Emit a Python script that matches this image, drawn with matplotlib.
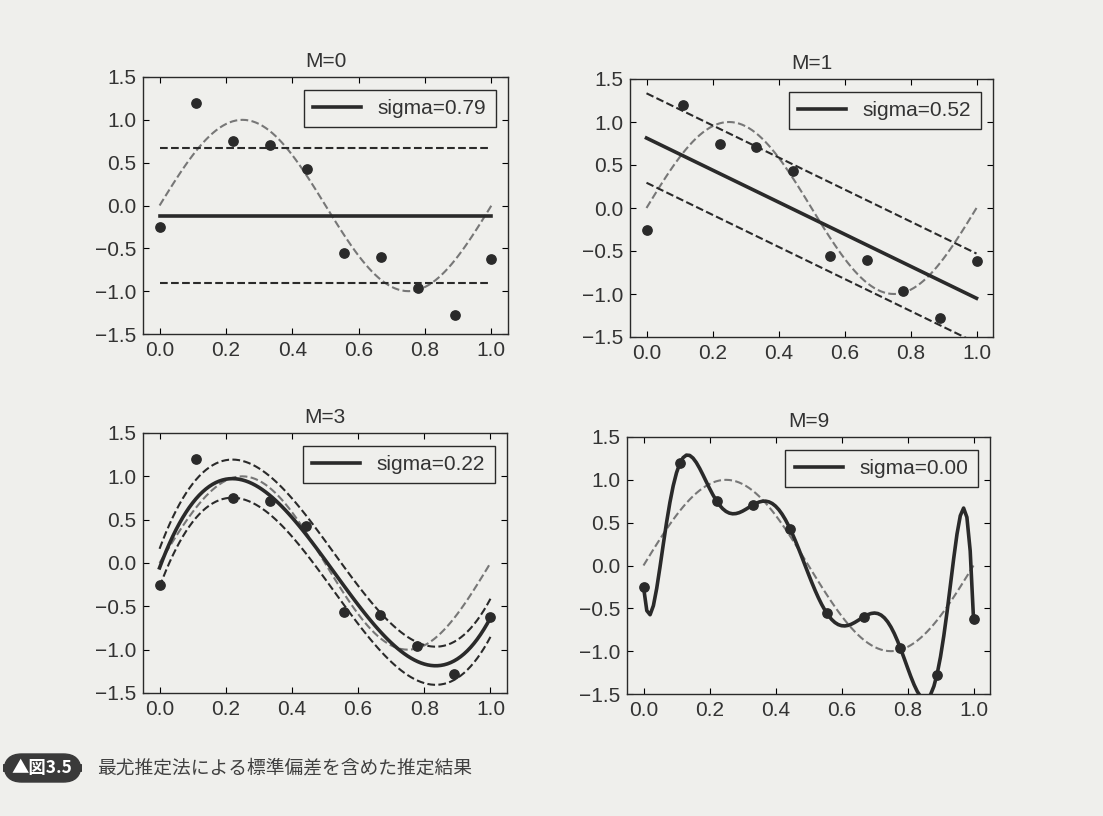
import numpy as np
import matplotlib
matplotlib.use("Agg")
import matplotlib.pyplot as plt
from matplotlib.patches import FancyBboxPatch

train_x = [0.0, 0.111, 0.222, 0.333, 0.444, 0.556, 0.667, 0.778, 0.889, 1.0]
train_y = [-0.25, 1.20, 0.75, 0.71, 0.43, -0.56, -0.60, -0.96, -1.28, -0.62]

orders = [0, 1, 3, 9]
sigmas = [0.79, 0.52, 0.22, 0.00]
titles = ["M=0", "M=1", "M=3", "M=9"]
caption = "最尤推定法による標準偏差を含めた推定結果"
badge = "▲図3.5"

xticks = [0.0, 0.2, 0.4, 0.6, 0.8, 1.0]
yticks = [-1.5, -1.0, -0.5, 0.0, 0.5, 1.0, 1.5]

paper = "#efefec"
ink = "#2a2a2a"

plt.rcParams["font.family"] = ["Liberation Sans", "DejaVu Sans"]

fig = plt.figure(figsize=(11.03, 8.16), dpi=100, facecolor=paper)
W, H = 1103.0, 816.0
boxes = [(143, 77, 508, 334), (630, 79, 993, 337),
         (143, 433, 507, 693), (627, 437, 990, 694)]

linex = np.linspace(0, 1, 101)
for i, (l, t, r, b) in enumerate(boxes):
    ax = fig.add_axes([l / W, 1 - b / H, (r - l) / W, (b - t) / H])
    ax.set_facecolor(paper)
    ax.set_xlim(-0.05, 1.05)
    ax.set_ylim(-1.5, 1.5)
    ax.set_xticks(xticks)
    ax.set_yticks(yticks)
    ax.tick_params(direction="in", top=True, right=True, length=4, width=0.8,
                   labelsize=15, labelcolor="#333333", pad=5)
    for s in ax.spines.values():
        s.set_linewidth(1.0)
        s.set_color(ink)
    ax.set_title(titles[i], fontsize=15, color="#333333", pad=7)

    coef = np.polyfit(train_x, train_y, orders[i])
    fit = np.polyval(coef, linex)
    ax.scatter(train_x, train_y, s=45, color=ink, zorder=3)
    ax.plot(linex, np.sin(2 * np.pi * linex), color="#777777", ls="--", lw=1.5)
    ax.plot(linex, fit, color=ink, lw=2.6, label="sigma=%.2f" % sigmas[i], zorder=4)
    if sigmas[i] > 0:
        ax.plot(linex, fit + sigmas[i], color=ink, ls="--", lw=1.5)
        ax.plot(linex, fit - sigmas[i], color=ink, ls="--", lw=1.5)
    leg = ax.legend(loc="upper right", fontsize=15, fancybox=False, framealpha=1,
                    handlelength=2.3, borderpad=0.45, borderaxespad=0.6)
    leg.get_frame().set_edgecolor(ink)
    leg.get_frame().set_facecolor(paper)
    leg.get_frame().set_linewidth(1.0)
    for txt in leg.get_texts():
        txt.set_color("#333333")

# caption
fig.patches.append(FancyBboxPatch((4 / W, 1 - 782 / H), 77 / W, 28 / H,
                                  boxstyle="round,pad=0,rounding_size=0.016",
                                  transform=fig.transFigure, facecolor="#3a3a3a",
                                  edgecolor="#3a3a3a", mutation_aspect=W / H))
fig.text(42 / W, 1 - 768 / H, badge, color="white", fontsize=12.5, ha="center", va="center",
         family=["Noto Sans CJK JP", "DejaVu Sans"], fontweight="bold")
fig.text(97 / W, 1 - 768 / H, caption, color="#404040", fontsize=13.5, ha="left", va="center",
         family=["Noto Sans CJK JP", "DejaVu Sans"])

fig.savefig("out.png", dpi=100, facecolor=paper)
